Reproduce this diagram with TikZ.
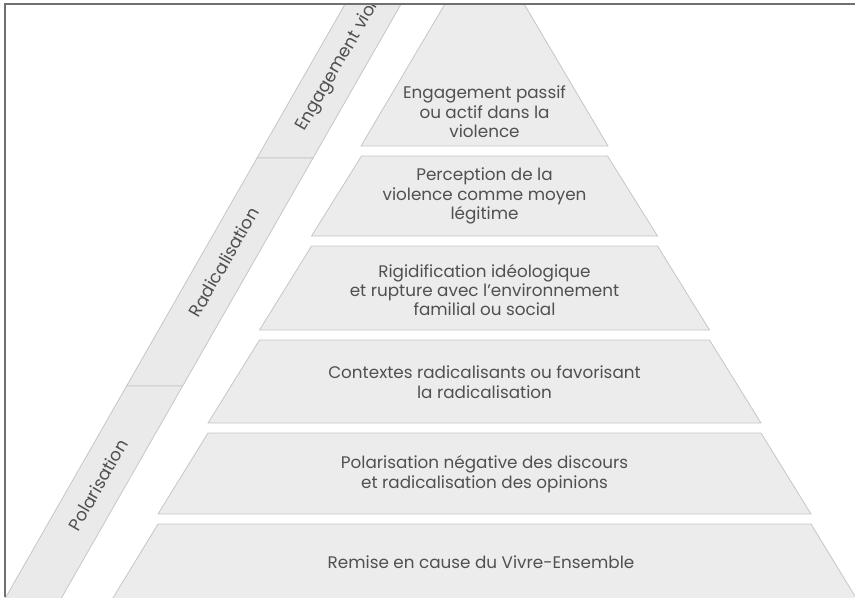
\documentclass[tikz,border=0pt]{standalone}
\usepackage{fontspec}
\setmainfont{Poppins}
\usepackage{xcolor}
\usepackage{tikz}

\definecolor{tierfill}{HTML}{ECECEC}
\definecolor{tieredge}{HTML}{C6C6C6}
\definecolor{bandfill}{HTML}{EAEAEA}
\definecolor{labeltext}{HTML}{505050}
\definecolor{framegray}{HTML}{707070}

\begin{document}
\begin{tikzpicture}[
  x=0.75pt, y=-0.75pt,
  tier/.style={fill=tierfill, draw=tieredge, line width=0.6pt},
  band/.style={fill=bandfill, draw=tieredge, line width=0.6pt},
  tiertext/.style={align=center, text=labeltext, inner sep=0pt, font=\fontsize{12.6}{14.6}\selectfont},
  bandtext/.style={text=labeltext, inner sep=0pt, rotate=60, font=\fontsize{13}{15}\selectfont},
]
\useasboundingbox (0,0) rectangle (855,597);

\begin{scope}
\clip (5,4) rectangle (855,597);

% slanted band on the left
\draw[band] (353.1,-10) -- (409.1,-10) -- (313,158) -- (257,158) -- cycle;
\draw[band] (257,158) -- (313,158) -- (182.6,386) -- (126.6,386) -- cycle;
\draw[band] (126.6,386) -- (182.6,386) -- (54.5,610) -- (-1.5,610) -- cycle;

\node[bandtext, anchor=west] (engv) at (301,130) {Engagement violent};
\node[bandtext] (radi) at (223.8,262) {Radicalisation};
\node[bandtext] (pola) at (98,485) {Polarisation};

% pyramid tiers
\draw[tier] (484.5,-63) -- (608,146) -- (361,146) -- cycle;
\draw[tier] (361.5,156) -- (607.5,156) -- (657.5,236) -- (311.5,236) -- cycle;
\draw[tier] (311.5,246) -- (657.5,246) -- (709.5,330) -- (259.5,330) -- cycle;
\draw[tier] (259.5,340) -- (709.5,340) -- (761,423) -- (208,423) -- cycle;
\draw[tier] (208,433) -- (761,433) -- (811,514) -- (158,514) -- cycle;
\draw[tier] (158,524) -- (811,524) -- (861,606) -- (108,606) -- cycle;

\node[tiertext] (violence) at (484.5,112) {Engagement passif\\ou actif dans la\\violence};
\node[tiertext] (legitime) at (484.5,196) {Perception de la\\violence comme moyen\\légitime};
\node[tiertext] (rupture) at (484.5,290) {Rigidification idéologique\\et rupture avec l'environnement\\familial ou social};
\node[tiertext] (contextes) at (484.5,382) {Contextes radicalisants ou favorisant\\la radicalisation};
\node[tiertext] (discours) at (484.5,474) {Polarisation négative des discours\\et radicalisation des opinions};
\node[tiertext] (vivre) at (481,562) {Remise en cause du Vivre-Ensemble};
\end{scope}

% frame
\draw[framegray, line width=1.5pt] (5,597) -- (5,4) -- (855,4);

\end{tikzpicture}
\end{document}
